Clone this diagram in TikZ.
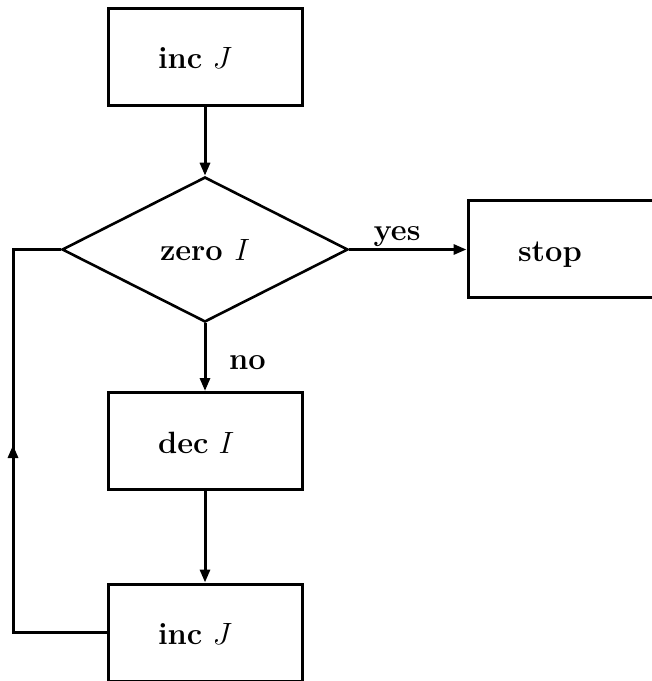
\documentclass[tikz,border=0pt]{standalone}
\usepackage{fix-cm}
\usetikzlibrary{shapes.geometric,arrows.meta}
\begin{document}
\begin{tikzpicture}[x=1pt,y=-1pt,
  every node/.style={font=\fontsize{30.8}{36}\selectfont\bfseries},
  procbox/.style={draw,line width=3pt,minimum width=194pt,minimum height=97pt,
    inner xsep=50pt,inner ysep=0pt,text width=94pt,align=left,text height=24pt,text depth=0pt},
  decide/.style={draw,diamond,line width=2.6pt,minimum width=286pt,minimum height=145pt,
    inner sep=0pt,text height=21pt,text depth=0pt},
  flow/.style={line width=3pt,-{Triangle[length=13pt,width=10pt]}},
  plain/.style={line width=3pt}]
\useasboundingbox (0,0) rectangle (652,681);
\clip (0,0) rectangle (652,681);
\node[procbox] (inc1) at (205,56.5) {inc $J$};
\node[decide] (zero) at (205,249.5) {zero $I$};
\node[procbox] (stop) at (565,249) {stop};
\node[procbox] (dec) at (205,441) {dec $I$};
\node[procbox] (inc2) at (205,632.5) {inc $J$};
\coordinate (corner) at (13,632.5);
\coordinate (mid) at (13,445);
\draw[flow] (inc1) -- (zero);
\draw[flow] (zero.east) -- (zero.east -| stop.west);
\draw[flow] (zero) -- (dec);
\draw[flow] (dec) -- (inc2);
\draw[plain] (inc2.west) -- (corner) |- (zero.west);
\draw[flow] (corner) -- (mid);
\node[anchor=base] (yes) at (397,240) {yes};
\node[anchor=base] (no) at (247.5,369) {no};
\end{tikzpicture}
\end{document}
